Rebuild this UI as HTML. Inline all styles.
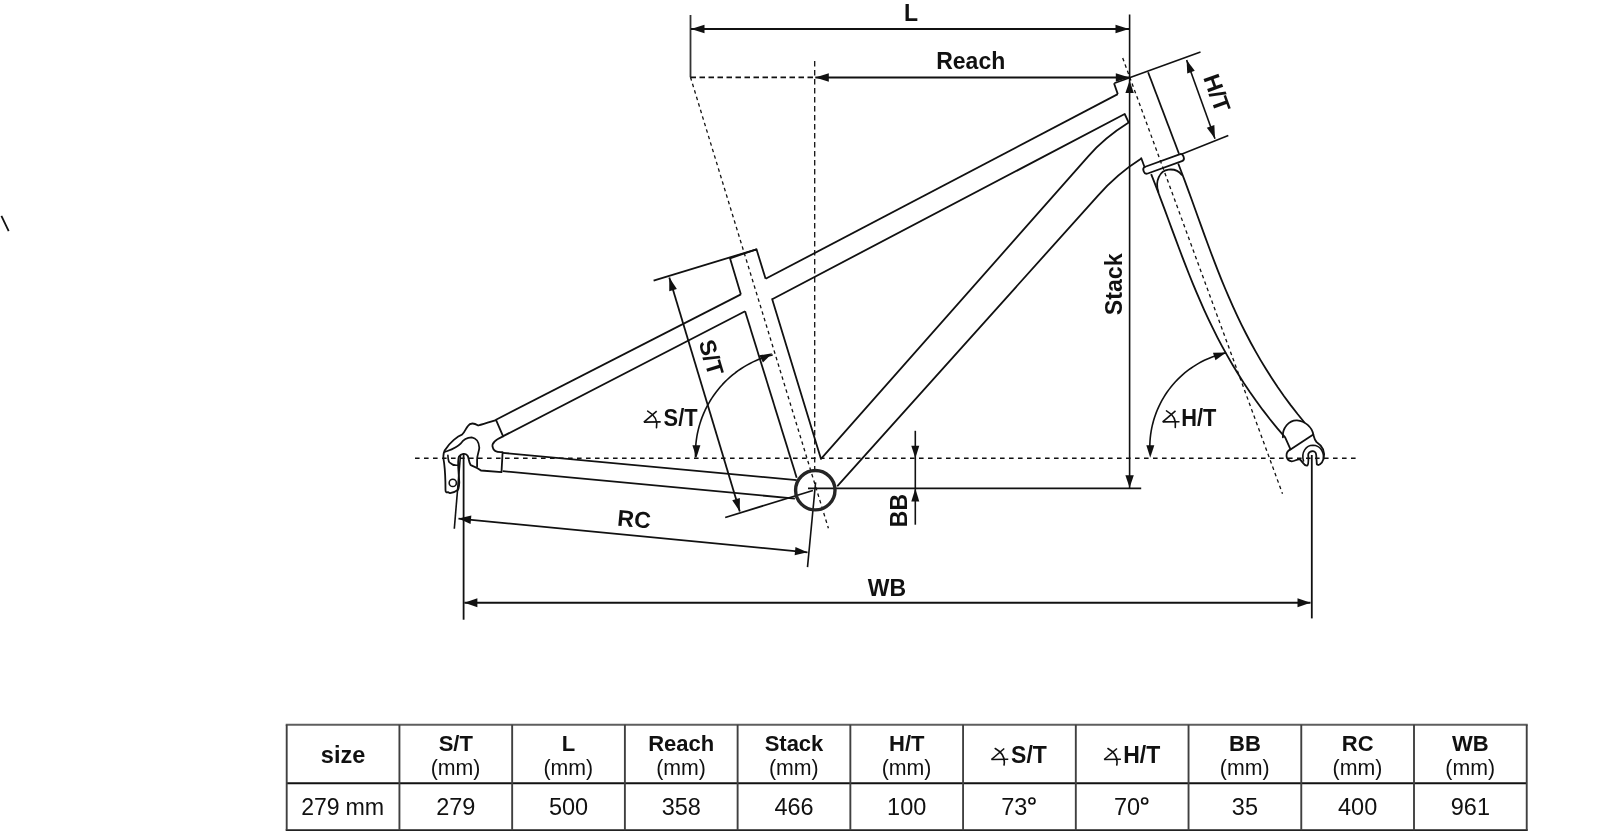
<!DOCTYPE html>
<html><head><meta charset="utf-8"><style>
html,body{margin:0;padding:0;background:#fff;}
body{width:1600px;height:831px;overflow:hidden;}
svg{display:block;will-change:transform;}
</style></head><body>
<svg width="1600" height="831" viewBox="0 0 1600 831">
<rect width="1600" height="831" fill="#fff"/>
<line x1="690.5" y1="15" x2="690.5" y2="77.3" stroke="#333" stroke-width="1.8"/>
<line x1="691" y1="29" x2="1129" y2="29" stroke="#111" stroke-width="1.9"/>
<path d="M691 29 L704.5 24.8 L704.5 33.2 Z" fill="#111"/>
<path d="M1129 29 L1115.5 33.2 L1115.5 24.8 Z" fill="#111"/>
<line x1="1129.6" y1="14.4" x2="1129.6" y2="488" stroke="#111" stroke-width="1.6"/>
<path d="M1129.6 80.6 L1133.8 93.1 L1125.4 93.1 Z" fill="#111"/>
<path d="M1129.6 487.7 L1125.4 475.2 L1133.8 475.2 Z" fill="#111"/>
<line x1="690.5" y1="77.3" x2="815" y2="77.3" stroke="#111" stroke-width="1.8" stroke-dasharray="5.5 3.5"/>
<line x1="815.3" y1="77.5" x2="1129.3" y2="77.5" stroke="#111" stroke-width="1.9"/>
<path d="M815.3 77.5 L828.8 73.3 L828.8 81.7 Z" fill="#111"/>
<path d="M1129.3 77.5 L1115.8 81.7 L1115.8 73.3 Z" fill="#111"/>
<line x1="814.7" y1="61" x2="814.7" y2="470" stroke="#111" stroke-width="1.3" stroke-dasharray="5.5 3.5"/>
<line x1="690.5" y1="77.3" x2="828.4" y2="528.3" stroke="#111" stroke-width="1.3" stroke-dasharray="3.5 3.3"/>
<line x1="1122.7" y1="58" x2="1282.5" y2="493.7" stroke="#111" stroke-width="1.3" stroke-dasharray="3.5 3.3"/>
<line x1="415" y1="458.3" x2="1360" y2="458.3" stroke="#111" stroke-width="1.6" stroke-dasharray="4.6 4.4"/>
<line x1="808" y1="488.3" x2="1141.2" y2="488.3" stroke="#111" stroke-width="1.8"/>
<line x1="915.3" y1="430.8" x2="915.3" y2="524.7" stroke="#111" stroke-width="1.6"/>
<path d="M915.3 458.3 L911.3 445.8 L919.3 445.8 Z" fill="#111"/>
<path d="M915.3 488.6 L919.3 501.6 L911.3 501.6 Z" fill="#111"/>
<line x1="1114.3" y1="83.3" x2="1200.5" y2="51.9" stroke="#111" stroke-width="1.6"/>
<line x1="1181.4" y1="154.3" x2="1228.3" y2="135.4" stroke="#111" stroke-width="1.6"/>
<line x1="1186.6" y1="59.9" x2="1215" y2="138.7" stroke="#111" stroke-width="1.6"/>
<path d="M1186.6 59.9 L1194.77 70.77 L1187.24 73.49 Z" fill="#111"/>
<path d="M1215 138.7 L1206.83 127.83 L1214.36 125.11 Z" fill="#111"/>
<line x1="653.6" y1="280.6" x2="756.5" y2="249.3" stroke="#111" stroke-width="1.8"/>
<line x1="669.3" y1="277.6" x2="739.8" y2="511.5" stroke="#111" stroke-width="1.8"/>
<path d="M669.3 277.6 L676.88 288.89 L669.22 291.2 Z" fill="#111"/>
<path d="M739.8 511.5 L732.22 500.21 L739.88 497.9 Z" fill="#111"/>
<line x1="725.2" y1="517.5" x2="812.9" y2="490.5" stroke="#111" stroke-width="1.8"/>
<line x1="458.5" y1="518.6" x2="807.5" y2="552.3" stroke="#111" stroke-width="1.8"/>
<path d="M458.5 518.6 L471.35 515.62 L470.54 523.98 Z" fill="#111"/>
<path d="M807.5 552.3 L794.65 555.28 L795.46 546.92 Z" fill="#111"/>
<line x1="454.3" y1="528.7" x2="460.5" y2="455" stroke="#111" stroke-width="1.6"/>
<line x1="815.6" y1="482.3" x2="807.5" y2="567.1" stroke="#111" stroke-width="1.6"/>
<line x1="463.6" y1="453.7" x2="463.6" y2="619.7" stroke="#111" stroke-width="1.8"/>
<line x1="1311.8" y1="455" x2="1311.8" y2="618.4" stroke="#111" stroke-width="1.8"/>
<line x1="464.4" y1="602.8" x2="1310.5" y2="602.8" stroke="#111" stroke-width="1.9"/>
<path d="M464.4 602.8 L477.4 598.3 L477.4 607.3 Z" fill="#111"/>
<path d="M1310.5 602.8 L1297.5 607.3 L1297.5 598.3 Z" fill="#111"/>
<path d="M772.63 354.86 L769.28 355.75 L765.96 356.75 L762.67 357.87 L759.42 359.1 L756.22 360.44 L753.07 361.89 L749.97 363.44 L746.92 365.1 L743.93 366.87 L741 368.73 L738.14 370.7 L735.34 372.76 L732.62 374.91 L729.98 377.16 L727.41 379.49 L724.92 381.91 L722.52 384.42 L720.2 387.01 L717.98 389.67 L715.85 392.41 L713.81 395.22 L711.86 398.09 L710.02 401.03 L708.28 404.04 L706.64 407.1 L705.11 410.21 L703.69 413.38 L702.37 416.59 L701.17 419.85 L700.08 423.14 L699.1 426.47 L698.23 429.83 L697.48 433.22 L696.85 436.63 L696.33 440.06 L695.93 443.51 L695.65 446.97 L695.49 450.44 L695.44 453.91 L695.51 457.38" fill="none" stroke="#111" stroke-width="1.6" stroke-linejoin="round"/>
<path d="M772.3 353.3 L762.93 362.49 L759.34 355.34 Z" fill="#111"/>
<path d="M696.4 457.8 L692.4 445.3 L700.4 445.3 Z" fill="#111"/>
<path d="M1226.15 352.85 L1222.94 353.59 L1219.76 354.45 L1216.61 355.41 L1213.49 356.48 L1210.41 357.66 L1207.37 358.94 L1204.38 360.32 L1201.44 361.8 L1198.55 363.39 L1195.71 365.07 L1192.94 366.84 L1190.22 368.72 L1187.57 370.68 L1184.99 372.73 L1182.49 374.87 L1180.05 377.09 L1177.7 379.39 L1175.42 381.78 L1173.22 384.24 L1171.12 386.77 L1169.09 389.37 L1167.16 392.04 L1165.32 394.78 L1163.58 397.58 L1161.93 400.43 L1160.38 403.34 L1158.93 406.3 L1157.58 409.31 L1156.34 412.36 L1155.2 415.45 L1154.17 418.58 L1153.24 421.74 L1152.42 424.94 L1151.72 428.16 L1151.12 431.4 L1150.63 434.66 L1150.26 437.93 L1149.99 441.22 L1149.84 444.51 L1149.8 447.81" fill="none" stroke="#111" stroke-width="1.6" stroke-linejoin="round"/>
<path d="M1226.1 352.5 L1215.49 360.23 L1212.98 352.64 Z" fill="#111"/>
<path d="M1150.2 457.8 L1146.34 445.26 L1154.34 445.35 Z" fill="#111"/>
<line x1="495.5" y1="420" x2="740.9" y2="294.4" stroke="#111" stroke-width="1.8"/>
<line x1="502.7" y1="436.4" x2="745.1" y2="311.3" stroke="#111" stroke-width="1.8"/>
<line x1="765.6" y1="278.8" x2="1117.8" y2="94.1" stroke="#111" stroke-width="1.8"/>
<path d="M772.2 299.2 L1124.7 114 L1128.7 122.6" fill="none" stroke="#111" stroke-width="1.8" stroke-linejoin="round"/>
<path d="M740.9 294.4 L730 258.3 L756.5 249.3 L765.6 278.8" fill="none" stroke="#111" stroke-width="1.8" stroke-linejoin="round"/>
<line x1="745.1" y1="311.3" x2="796.7" y2="477.8" stroke="#111" stroke-width="1.8"/>
<path d="M772.2 299.2 L821 458.9 L1088 156.7 Q1104 138 1128.7 122.6" fill="none" stroke="#111" stroke-width="1.8" stroke-linejoin="round" stroke-linecap="round"/>
<path d="M837.8 485.7 L1098 195.6 Q1117 174 1140.6 159 L1141.3 158.2 L1144.6 167.2" fill="none" stroke="#111" stroke-width="1.8" stroke-linejoin="round" stroke-linecap="round"/>
<path d="M1114 83.2 L1117.8 94.1" fill="none" stroke="#111" stroke-width="1.8" stroke-linejoin="round"/>
<line x1="1148.1" y1="72.2" x2="1179" y2="153.7" stroke="#111" stroke-width="1.8"/>
<rect x="-21.2" y="-3.6" width="42.4" height="7.2" rx="3" transform="translate(1163.6,163.9) rotate(-20)" fill="none" stroke="#111" stroke-width="1.8"/>
<path d="M1151.15 174.1 L1154.7 183.18 L1158.18 192.26 L1161.6 201.34 L1164.99 210.42 L1168.35 219.5 L1171.7 228.58 L1175.07 237.66 L1178.46 246.73 L1181.9 255.81 L1185.39 264.89 L1188.96 273.97 L1192.63 283.05 L1196.4 292.13 L1200.3 301.21 L1204.34 310.29 L1208.54 319.37 L1212.92 328.45 L1217.49 337.53 L1222.26 346.61 L1227.27 355.69 L1232.51 364.77 L1238.01 373.84 L1243.79 382.92 L1249.86 392 L1256.23 401.08 L1262.93 410.16 L1269.97 419.24 L1277.37 428.32 L1285.14 437.4 L1290.5 449.4" fill="none" stroke="#111" stroke-width="1.8" stroke-linejoin="round"/>
<path d="M1178.2 163.5 L1181.64 172.45 L1185 181.4 L1188.3 190.34 L1191.56 199.29 L1194.79 208.24 L1198.01 217.19 L1201.23 226.14 L1204.48 235.09 L1207.76 244.03 L1211.09 252.98 L1214.48 261.93 L1217.96 270.88 L1221.54 279.83 L1225.23 288.78 L1229.05 297.72 L1233.02 306.67 L1237.14 315.62 L1241.44 324.57 L1245.94 333.52 L1250.64 342.47 L1255.56 351.41 L1260.72 360.36 L1266.14 369.31 L1271.83 378.26 L1277.8 387.21 L1284.07 396.16 L1290.66 405.1 L1297.59 414.05 L1304.86 423" fill="none" stroke="#111" stroke-width="1.8" stroke-linejoin="round"/>
<path d="M1158.4 192 C1154.5 181 1160 170.5 1168.5 169.6 C1174.5 169 1179 171 1181.6 174.8" fill="none" stroke="#111" stroke-width="1.8" stroke-linejoin="round" stroke-linecap="round"/>
<path d="M1282.9 437.4 C1282 428 1289 420 1297 420.3 C1305 421 1312 427 1313.3 434.5 L1290.5 449.4" fill="none" stroke="#111" stroke-width="1.8" stroke-linejoin="round" stroke-linecap="round"/>
<path d="M1290.5 449.4 C1285 452 1285 460 1291.6 461.3 C1295 461.5 1297 458.5 1300 459.5 C1303 462 1304 466 1307 465.6 C1309 465 1308.5 460 1308.2 455 C1308 451 1316 449 1316.2 455 L1316.8 464 C1318 466.5 1322 464 1323.5 459 C1326 450 1321 445 1316.5 442 C1314.5 440 1314 437 1313.3 434.5" fill="none" stroke="#111" stroke-width="1.8" stroke-linejoin="round" stroke-linecap="round"/>
<path d="M1303.5 461 C1301 452 1306 445.5 1313 445.3 C1320 445.5 1324 451 1323.5 459" fill="none" stroke="#111" stroke-width="1.6" stroke-linejoin="round" stroke-linecap="round"/>
<line x1="502.7" y1="452.8" x2="796.7" y2="480.2" stroke="#111" stroke-width="1.8"/>
<line x1="502.7" y1="471.2" x2="794.9" y2="498.6" stroke="#111" stroke-width="1.8"/>
<circle cx="815.3" cy="490.2" r="19.7" fill="none" stroke="#252525" stroke-width="3.4"/>
<path d="M496.1 420.1 L503.1 436.4 C497 439 491 443 492.8 447.5 C493.5 451 497 452.5 502.6 452.1 L501.5 472.1 L481 470.5 C477 467 472 466 470.6 465 C468.5 462 469 457 467.4 455.5 C465.5 453 461 453.5 459 456.5 C457 460 458.5 470 459.3 482.4 C459 488 458 490 457.7 490 C455 492 452 493 450.1 493.2 L447.9 492.1 C446.5 493 445.5 492 445.5 490 C445.5 480 445 470 444.1 462.9 C443 458 443 454 444.7 450.4 C450 442 458 436 462 434.7 C465 432 466 428 467.9 426.1 C470 423 474 423 478.2 425.5 C484 424 490 422 496.1 420.1" fill="none" stroke="#111" stroke-width="1.8" stroke-linejoin="round" stroke-linecap="round"/>
<path d="M444.7 452 C450 450 455.5 448.8 460.9 443.4 C463 440 466 437.5 471.7 437.4 C476 438 479 442 479.3 447.7 C479 452 477 455 477.1 460 L477.1 466.5" fill="none" stroke="#111" stroke-width="1.8" stroke-linejoin="round" stroke-linecap="round"/>
<path d="M447.9 455.3 C448 459 449 462.9 450.1 462.9 C452 465 454 466 459.3 465" fill="none" stroke="#111" stroke-width="1.6" stroke-linejoin="round" stroke-linecap="round"/>
<circle cx="452.8" cy="482.9" r="3.6" fill="none" stroke="#111" stroke-width="1.6"/>
<line x1="1.4" y1="215.9" x2="8.7" y2="231.1" stroke="#111" stroke-width="1.8"/>
<text transform="translate(911,20.6)" font-family="Liberation Sans, sans-serif" font-size="23" font-weight="bold" text-anchor="middle" fill="#111">L</text>
<text transform="translate(970.7,69)" font-family="Liberation Sans, sans-serif" font-size="23" font-weight="bold" text-anchor="middle" fill="#111">Reach</text>
<text transform="translate(887,595.5)" font-family="Liberation Sans, sans-serif" font-size="23" font-weight="bold" text-anchor="middle" fill="#111">WB</text>
<g transform="translate(634.2,518.7) rotate(5.5) scale(1,1)"><text x="0" y="8.38" font-family="Liberation Sans, sans-serif" font-size="23" font-weight="bold" text-anchor="middle" fill="#111">RC</text></g>
<g transform="translate(1113.4,284.3) rotate(-90) scale(1.01,1)"><text x="0" y="8.38" font-family="Liberation Sans, sans-serif" font-size="23" font-weight="bold" text-anchor="middle" fill="#111">Stack</text></g>
<g transform="translate(898.7,510.6) rotate(-90) scale(1,1)"><text x="0" y="8.38" font-family="Liberation Sans, sans-serif" font-size="23" font-weight="bold" text-anchor="middle" fill="#111">BB</text></g>
<g transform="translate(1217.3,92.8) rotate(70.2) scale(1.04,1)"><text x="0" y="8.38" font-family="Liberation Sans, sans-serif" font-size="23" font-weight="bold" text-anchor="middle" fill="#111">H/T</text></g>
<g transform="translate(711.6,357.3) rotate(73.2) scale(1,1)"><text x="0" y="8.38" font-family="Liberation Sans, sans-serif" font-size="23" font-weight="bold" text-anchor="middle" fill="#111">S/T</text></g>
<line x1="643.9" y1="422.1" x2="660.7" y2="421.9" stroke="#111" stroke-width="1.6"/>
<line x1="643.9" y1="422.1" x2="656.7" y2="411.1" stroke="#111" stroke-width="1.6"/>
<path d="M647.7 411.1 Q658.4 417.1 656.5 427.6" fill="none" stroke="#111" stroke-width="1.6" stroke-linejoin="round" stroke-linecap="round"/>
<text transform="translate(663.6,426.3) scale(0.95,1)" font-family="Liberation Sans, sans-serif" font-size="23" font-weight="bold" text-anchor="start" fill="#111">S/T</text>
<line x1="1162.7" y1="421.9" x2="1179.5" y2="421.7" stroke="#111" stroke-width="1.6"/>
<line x1="1162.7" y1="421.9" x2="1175.5" y2="410.9" stroke="#111" stroke-width="1.6"/>
<path d="M1166.5 410.9 Q1177.2 416.9 1175.3 427.4" fill="none" stroke="#111" stroke-width="1.6" stroke-linejoin="round" stroke-linecap="round"/>
<text transform="translate(1181.2,426.3) scale(0.95,1)" font-family="Liberation Sans, sans-serif" font-size="23" font-weight="bold" text-anchor="start" fill="#111">H/T</text>
<line x1="285.7" y1="724.8" x2="1527.73" y2="724.8" stroke="#5e5e5e" stroke-width="2.1"/>
<line x1="286.7" y1="783.2" x2="1526.73" y2="783.2" stroke="#111" stroke-width="1.9"/>
<line x1="285.7" y1="830.2" x2="1527.73" y2="830.2" stroke="#222" stroke-width="1.9"/>
<line x1="286.7" y1="724.8" x2="286.7" y2="830.2" stroke="#404040" stroke-width="1.9"/>
<line x1="399.43" y1="724.8" x2="399.43" y2="830.2" stroke="#404040" stroke-width="1.9"/>
<line x1="512.16" y1="724.8" x2="512.16" y2="830.2" stroke="#404040" stroke-width="1.9"/>
<line x1="624.89" y1="724.8" x2="624.89" y2="830.2" stroke="#404040" stroke-width="1.9"/>
<line x1="737.62" y1="724.8" x2="737.62" y2="830.2" stroke="#404040" stroke-width="1.9"/>
<line x1="850.35" y1="724.8" x2="850.35" y2="830.2" stroke="#404040" stroke-width="1.9"/>
<line x1="963.08" y1="724.8" x2="963.08" y2="830.2" stroke="#404040" stroke-width="1.9"/>
<line x1="1075.81" y1="724.8" x2="1075.81" y2="830.2" stroke="#404040" stroke-width="1.9"/>
<line x1="1188.54" y1="724.8" x2="1188.54" y2="830.2" stroke="#404040" stroke-width="1.9"/>
<line x1="1301.27" y1="724.8" x2="1301.27" y2="830.2" stroke="#404040" stroke-width="1.9"/>
<line x1="1414" y1="724.8" x2="1414" y2="830.2" stroke="#404040" stroke-width="1.9"/>
<line x1="1526.73" y1="724.8" x2="1526.73" y2="830.2" stroke="#404040" stroke-width="1.9"/>
<text transform="translate(343.06,762.5) scale(0.98,1)" font-family="Liberation Sans, sans-serif" font-size="24" font-weight="bold" text-anchor="middle" fill="#111">size</text>
<text transform="translate(339.6,815) scale(0.98,1)" font-family="Liberation Sans, sans-serif" font-size="23.5" font-weight="normal" text-anchor="end" fill="#111">279</text>
<text transform="translate(345.4,815) scale(0.99,1)" font-family="Liberation Sans, sans-serif" font-size="23.5" font-weight="normal" text-anchor="start" fill="#111">mm</text>
<text transform="translate(455.79,750.6)" font-family="Liberation Sans, sans-serif" font-size="22" font-weight="bold" text-anchor="middle" fill="#111">S/T</text>
<text transform="translate(455.59,775) scale(0.97,1)" font-family="Liberation Sans, sans-serif" font-size="22" font-weight="normal" text-anchor="middle" fill="#111">(mm)</text>
<text transform="translate(455.79,815)" font-family="Liberation Sans, sans-serif" font-size="23.5" font-weight="normal" text-anchor="middle" fill="#111">279</text>
<text transform="translate(568.52,750.6)" font-family="Liberation Sans, sans-serif" font-size="22" font-weight="bold" text-anchor="middle" fill="#111">L</text>
<text transform="translate(568.32,775) scale(0.97,1)" font-family="Liberation Sans, sans-serif" font-size="22" font-weight="normal" text-anchor="middle" fill="#111">(mm)</text>
<text transform="translate(568.52,815)" font-family="Liberation Sans, sans-serif" font-size="23.5" font-weight="normal" text-anchor="middle" fill="#111">500</text>
<text transform="translate(681.25,750.6)" font-family="Liberation Sans, sans-serif" font-size="22" font-weight="bold" text-anchor="middle" fill="#111">Reach</text>
<text transform="translate(681.05,775) scale(0.97,1)" font-family="Liberation Sans, sans-serif" font-size="22" font-weight="normal" text-anchor="middle" fill="#111">(mm)</text>
<text transform="translate(681.25,815)" font-family="Liberation Sans, sans-serif" font-size="23.5" font-weight="normal" text-anchor="middle" fill="#111">358</text>
<text transform="translate(793.99,750.6)" font-family="Liberation Sans, sans-serif" font-size="22" font-weight="bold" text-anchor="middle" fill="#111">Stack</text>
<text transform="translate(793.78,775) scale(0.97,1)" font-family="Liberation Sans, sans-serif" font-size="22" font-weight="normal" text-anchor="middle" fill="#111">(mm)</text>
<text transform="translate(793.99,815)" font-family="Liberation Sans, sans-serif" font-size="23.5" font-weight="normal" text-anchor="middle" fill="#111">466</text>
<text transform="translate(906.71,750.6)" font-family="Liberation Sans, sans-serif" font-size="22" font-weight="bold" text-anchor="middle" fill="#111">H/T</text>
<text transform="translate(906.51,775) scale(0.97,1)" font-family="Liberation Sans, sans-serif" font-size="22" font-weight="normal" text-anchor="middle" fill="#111">(mm)</text>
<text transform="translate(906.71,815)" font-family="Liberation Sans, sans-serif" font-size="23.5" font-weight="normal" text-anchor="middle" fill="#111">100</text>
<line x1="991.44" y1="759.5" x2="1008.24" y2="759.3" stroke="#111" stroke-width="1.6"/>
<line x1="991.44" y1="759.5" x2="1004.24" y2="748.5" stroke="#111" stroke-width="1.6"/>
<path d="M995.24 748.5 Q1005.94 754.5 1004.04 765" fill="none" stroke="#111" stroke-width="1.6" stroke-linejoin="round" stroke-linecap="round"/>
<text transform="translate(1028.94,762.8)" font-family="Liberation Sans, sans-serif" font-size="23" font-weight="bold" text-anchor="middle" fill="#111">S/T</text>
<text transform="translate(1014.24,815)" font-family="Liberation Sans, sans-serif" font-size="23.5" font-weight="normal" text-anchor="middle" fill="#111">73</text>
<circle cx="1031.94" cy="801" r="3" fill="none" stroke="#111" stroke-width="1.7"/>
<line x1="1104.17" y1="759.5" x2="1120.97" y2="759.3" stroke="#111" stroke-width="1.6"/>
<line x1="1104.17" y1="759.5" x2="1116.97" y2="748.5" stroke="#111" stroke-width="1.6"/>
<path d="M1107.97 748.5 Q1118.67 754.5 1116.77 765" fill="none" stroke="#111" stroke-width="1.6" stroke-linejoin="round" stroke-linecap="round"/>
<text transform="translate(1141.67,762.8)" font-family="Liberation Sans, sans-serif" font-size="23" font-weight="bold" text-anchor="middle" fill="#111">H/T</text>
<text transform="translate(1126.97,815)" font-family="Liberation Sans, sans-serif" font-size="23.5" font-weight="normal" text-anchor="middle" fill="#111">70</text>
<circle cx="1144.67" cy="801" r="3" fill="none" stroke="#111" stroke-width="1.7"/>
<text transform="translate(1244.9,750.6)" font-family="Liberation Sans, sans-serif" font-size="22" font-weight="bold" text-anchor="middle" fill="#111">BB</text>
<text transform="translate(1244.7,775) scale(0.97,1)" font-family="Liberation Sans, sans-serif" font-size="22" font-weight="normal" text-anchor="middle" fill="#111">(mm)</text>
<text transform="translate(1244.9,815)" font-family="Liberation Sans, sans-serif" font-size="23.5" font-weight="normal" text-anchor="middle" fill="#111">35</text>
<text transform="translate(1357.63,750.6)" font-family="Liberation Sans, sans-serif" font-size="22" font-weight="bold" text-anchor="middle" fill="#111">RC</text>
<text transform="translate(1357.43,775) scale(0.97,1)" font-family="Liberation Sans, sans-serif" font-size="22" font-weight="normal" text-anchor="middle" fill="#111">(mm)</text>
<text transform="translate(1357.63,815)" font-family="Liberation Sans, sans-serif" font-size="23.5" font-weight="normal" text-anchor="middle" fill="#111">400</text>
<text transform="translate(1470.37,750.6)" font-family="Liberation Sans, sans-serif" font-size="22" font-weight="bold" text-anchor="middle" fill="#111">WB</text>
<text transform="translate(1470.16,775) scale(0.97,1)" font-family="Liberation Sans, sans-serif" font-size="22" font-weight="normal" text-anchor="middle" fill="#111">(mm)</text>
<text transform="translate(1470.37,815)" font-family="Liberation Sans, sans-serif" font-size="23.5" font-weight="normal" text-anchor="middle" fill="#111">961</text>
</svg>
</body></html>
